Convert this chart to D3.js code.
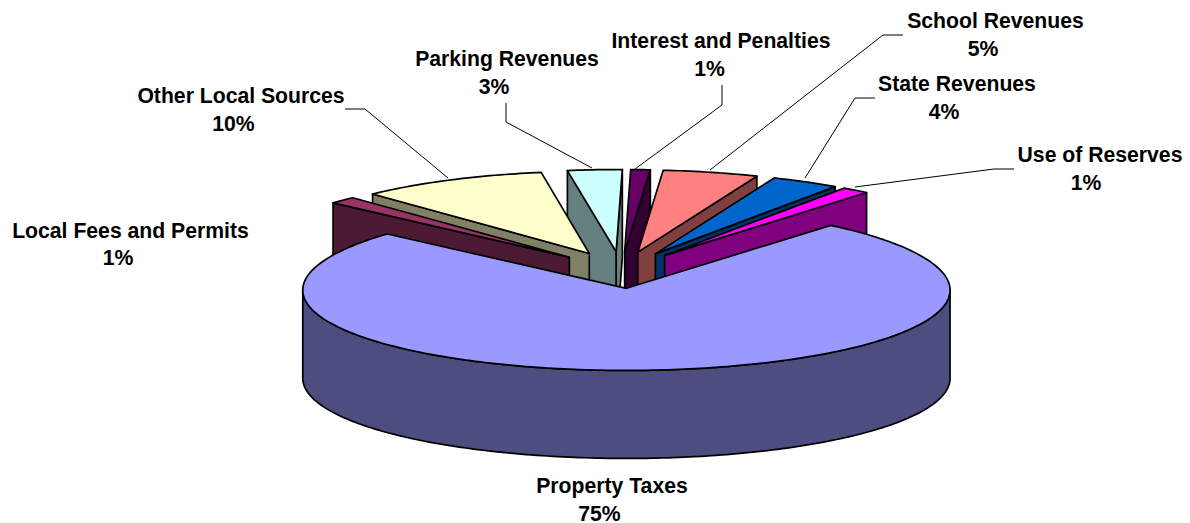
<!DOCTYPE html>
<html><head><meta charset="utf-8">
<script src="https://cdnjs.cloudflare.com/ajax/libs/d3/7.8.5/d3.min.js"></script>
<style>html,body{margin:0;padding:0;background:#fff}svg{display:block}
text{font-family:"Liberation Sans",Arial,sans-serif;font-weight:bold;font-size:21.2px;fill:#000;text-anchor:middle}</style>
</head><body><svg width="1190" height="523"></svg>
<script>
// Data, clockwise starting with Property Taxes
const categories = ["Property Taxes","Local Fees and Permits","Other Local Sources","Parking Revenues","Interest and Penalties","School Revenues","State Revenues","Use of Reserves"];
const shares = [75.4,1.4,9.6,2.8,1.0,4.9,3.5,1.4];
const topColors = ["#9999FF","#993366","#FFFFCC","#CCFFFF","#660066","#FF8080","#0066CC","#FF00FF"];
const wallColors = ["#4D4D80","#4D1A33","#808066","#668080","#330033","#804040","#003366","#800080"];
// Layout
const labelAnchors = [[612,493],[130.5,237.5],[241,103],[507,66],[721,48],[995.5,28],[957,91],[1100,162]];
const percentShift = [-12.5,-12.5,-7.5,-13,-11.5,-12.5,-13,-14];
const leaders = [null,null,
 [[345,109],[365,109],[448,178]],
 [[506,103],[506,122],[592,168]],
 [[722,85],[722,105],[635,169]],
 [[903,35],[883,35],[710,170]],
 [[875,98],[855,98],[805,178]],
 [[1014,169],[994,169],[855,187]]];
const cx=621, cy=270, rx=322, tilt=0.255, depth=88, explode=72, startDeg=40, persp=0.022;

const svg=d3.select("svg");
const arcs=d3.pie().sort(null).value(d=>d)
  .startAngle(startDeg*Math.PI/180).endAngle((startDeg+360)*Math.PI/180)(shares);
const line=d3.line();

// plane coords (x right, y toward viewer) → screen, angle measured clockwise from the back
function project(a,r,ox,oy,z){
  const px=ox+r*Math.sin(a), py=oy-r*Math.cos(a);
  return [cx+px*(1+persp*py/rx), cy+py*tilt+z];
}
function shapes(d,i){
  const mid=(d.startAngle+d.endAngle)/2, ox=explode*Math.sin(mid), oy=-explode*Math.cos(mid);
  const n=Math.max(6,Math.round((d.endAngle-d.startAngle)*60));
  const angs=d3.range(n+1).map(k=>d.startAngle+(d.endAngle-d.startAngle)*k/n);
  const P=(a,r,z)=>project(a,r,ox,oy,z);
  const apex=P(0,0,0);
  const top=[apex,...angs.map(a=>P(a,rx,0))];
  const walls=[];
  const face=a=>[apex,P(a,rx,0),P(a,rx,depth),P(a,0,depth)];
  // radial faces: keep only those turned toward the viewer
  if(Math.sin(d.endAngle)>0) walls.push(face(d.endAngle));
  if(Math.sin(d.startAngle)<0) walls.push(face(d.startAngle));
  // outer wall, front half only
  const front=angs.filter(a=>Math.cos(a)<0);
  if(front.length>1) walls.push([...front.map(a=>P(a,rx,0)),...front.slice().reverse().map(a=>P(a,rx,depth))]);
  return {i,mid,walls,top};
}
const order=arcs.map(shapes).sort((a,b)=>-Math.cos(a.mid)+Math.cos(b.mid));
const pieG=svg.append("g");
order.forEach(s=>{
  const g=pieG.append("g");
  g.selectAll("path.w").data(s.walls).join("path").attr("class","w")
    .attr("d",w=>line(w)+"Z").attr("fill",wallColors[s.i]).attr("stroke","#000").attr("stroke-width",1.7).attr("stroke-linejoin","round");
  g.append("path").attr("d",line(s.top)+"Z").attr("fill",topColors[s.i]).attr("stroke","#000").attr("stroke-width",1.7).attr("stroke-linejoin","round");
});
// leaders
svg.append("g").selectAll("path").data(leaders.filter(Boolean)).join("path")
  .attr("d",line).attr("fill","none").attr("stroke","#000").attr("stroke-width",1);
// labels
categories.forEach((c,i)=>{
  const [x,y]=labelAnchors[i];
  svg.append("text").attr("x",x).attr("y",y).text(c);
  svg.append("text").attr("x",x+percentShift[i]).attr("y",y+27.5).text(Math.round(shares[i])+"%");
});
</script></body></html>
